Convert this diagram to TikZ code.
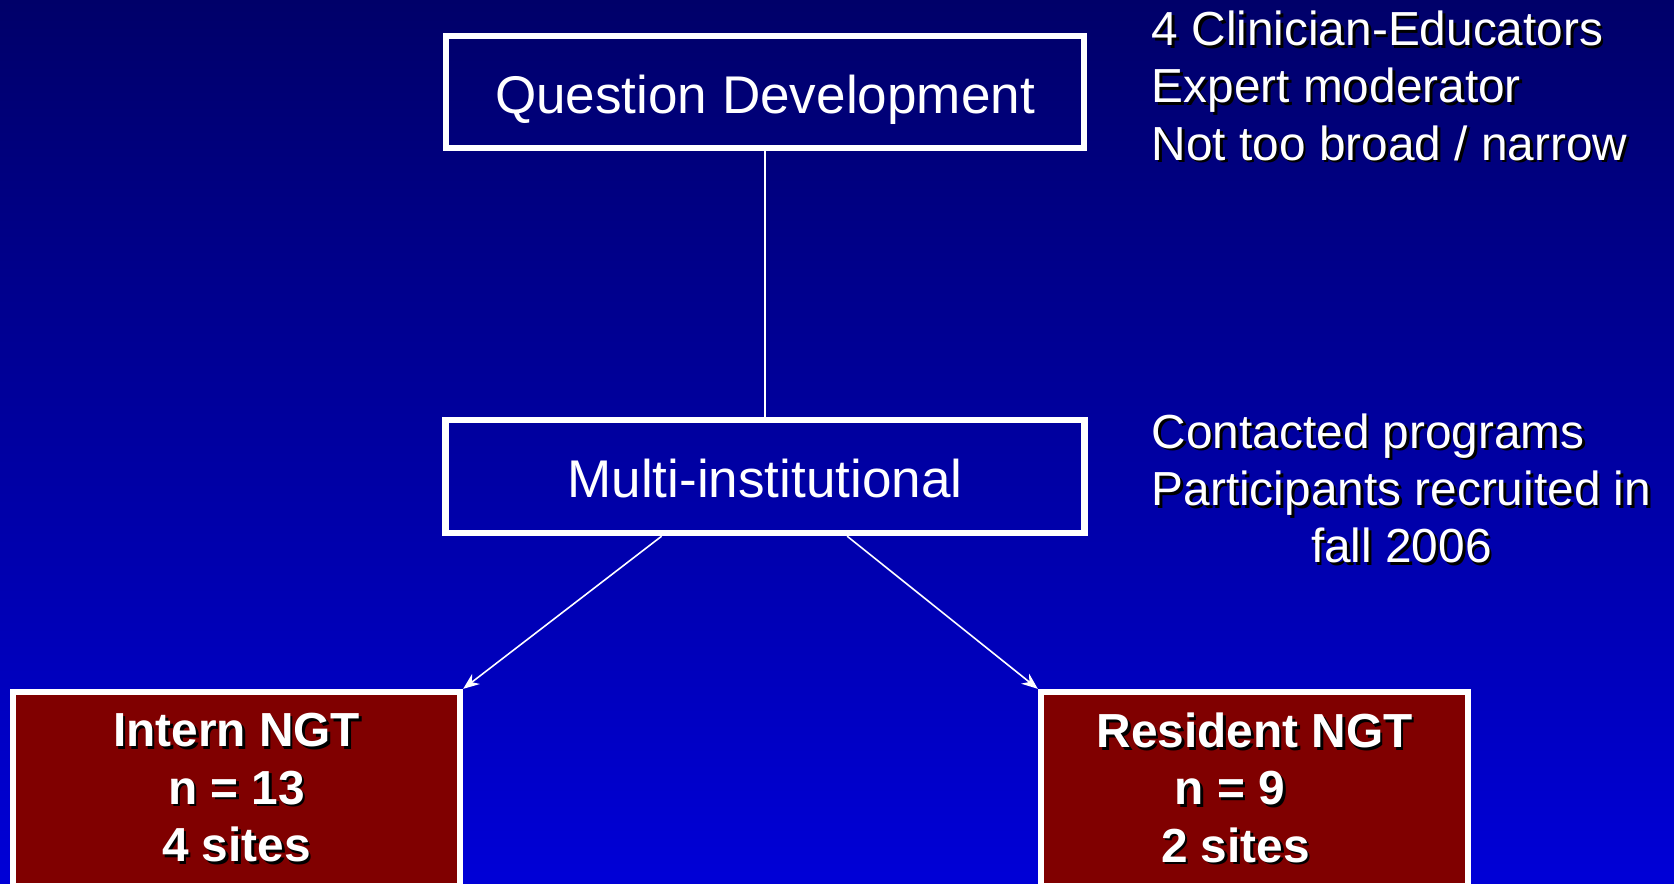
\documentclass[tikz,border=0pt]{standalone}
\usepackage{fontspec}
\setmainfont{Liberation Sans}
\usepackage{xcolor}
\usetikzlibrary{arrows.meta, positioning, calc}
\definecolor{slidetop}{RGB}{0, 0, 105}
\definecolor{slidebottom}{RGB}{0, 0, 215}
\definecolor{ngtred}{RGB}{128, 0, 0}
\newcommand{\shd}[1]{\leavevmode\rlap{\color{black}\hspace{0.75pt}\raisebox{-0.75pt}{#1}}#1}

\begin{document}
\begin{tikzpicture}[
    stagebox/.style={draw=white, line width=1.8pt, text=white, text height=12.2pt, text depth=0pt, font=\fontsize{15.1pt}{18pt}\selectfont},
    groupbox/.style={draw=white, line width=1.8pt, fill=ngtred, text=white, align=center, minimum height=1.94cm, font=\fontsize{13.6pt}{16.3pt}\selectfont\bfseries},
    note/.style={text=white, align=left, inner sep=0pt, font=\fontsize{13.6pt}{16.3pt}\selectfont},
    link/.style={white, line width=0.45pt}
]
\shade[top color=slidetop, bottom color=slidebottom] (0,0) rectangle (16.74,-8.83);
\useasboundingbox (0,0) rectangle (16.74,-8.83);

\node[stagebox, minimum width=6.38cm, minimum height=1.12cm] (qd) at (7.65,-0.923) {Question Development};
\node[stagebox, minimum width=6.39cm, minimum height=1.13cm] (multi) at (7.65,-4.765) {Multi-institutional};
\node[groupbox, minimum width=4.47cm] (intern) at (2.365,-7.89) {\shd{Intern NGT}\\\shd{n = 13}\\\shd{4 sites}};
\node[groupbox, minimum width=4.27cm] (resident) at (12.545,-7.89) {\shd{Resident NGT}\\\shd{n = 9\hspace{0.49cm}}\null\\\shd{2 sites\hspace{0.38cm}}\null};

\node[note, anchor=west] (team) at (11.51,-0.87) {\shd{4 Clinician-Educators}\\\shd{Expert moderator}\\\shd{Not too broad / narrow}};
\node[note, anchor=west] (recruit) at (11.51,-4.94) {\begin{tabular}{@{}l@{}}
\shd{Contacted programs}\\
\shd{Participants recruited in}\\
\multicolumn{1}{@{}c@{}}{\shd{fall 2006}}
\end{tabular}};

\draw[link] (qd) -- (multi);
\draw[link, -{Stealth[length=4.6pt, width=3.6pt]}] (multi.210.75) -- (intern.north east);
\draw[link, -{Stealth[length=4.6pt, width=3.6pt]}] (multi.324) -- (resident.north west);
\end{tikzpicture}
\end{document}
